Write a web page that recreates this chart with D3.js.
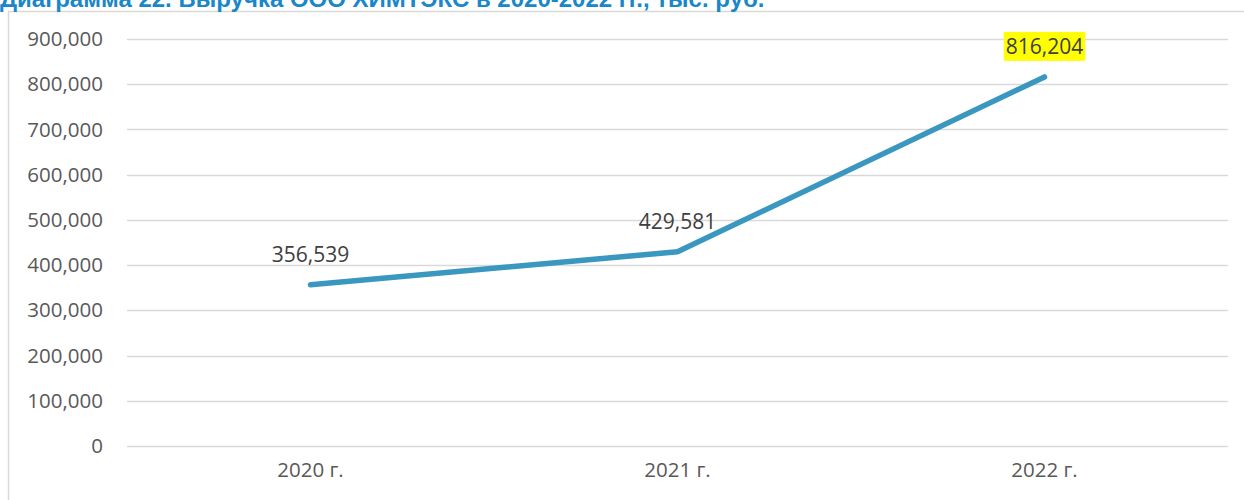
<!DOCTYPE html>
<html>
<head>
<meta charset="utf-8">
<script src="https://cdn.jsdelivr.net/npm/d3@7"></script>
<style>
  body { margin: 0; background: #fff; }
  svg { display: block; }
</style>
</head>
<body>
<script>
// data
var years = ["2020 г.", "2021 г.", "2022 г."];
var revenue = [356539, 429581, 816204];
var yTicks = [0, 100000, 200000, 300000, 400000, 500000, 600000, 700000, 800000, 900000];
var highlighted = [false, false, true];

var W = 1244, H = 500;
var margin = {left: 127, right: 16, top: 39, bottom: 54};

var svg = d3.select('body').append('svg')
    .attr('width', W)
    .attr('height', H);

// chart frame (cut off at right and bottom)
svg.append('rect')
    .attr('x', 8.5).attr('y', 11.5)
    .attr('width', W + 20).attr('height', H + 20)
    .attr('fill', 'none')
    .attr('stroke', '#d9d9d9')
    .attr('stroke-width', 1.5);

// title, top half is cut off by the page edge like in the source
svg.append('text')
    .attr('x', 0).attr('y', 7)
    .attr('font-family', 'Liberation Sans, Arial, sans-serif')
    .attr('font-weight', 'bold')
    .attr('font-size', 24)
    .attr('fill', '#1a87c9')
    .text('Диаграмма 22. Выручка ООО ХИМТЭКС в 2020-2022 гг., тыс. руб.');

var x = d3.scaleBand()
    .domain(years)
    .range([margin.left, W - margin.right]);

var y = d3.scaleLinear()
    .domain([0, 900000])
    .range([H - margin.bottom, margin.top]);

var fmt = d3.format(',');

// gridlines
svg.append('g')
    .selectAll('line')
    .data(yTicks)
    .enter().append('line')
    .attr('x1', margin.left)
    .attr('x2', W - margin.right)
    .attr('y1', function(d){ return Math.round(y(d)) + 0.5; })
    .attr('y2', function(d){ return Math.round(y(d)) + 0.5; })
    .style('stroke', '#d9d9d9')
    .style('stroke-width', 1.5);

// y axis labels
var yAxis = d3.axisLeft(y).tickValues(yTicks).tickFormat(fmt).tickSize(0).tickPadding(24);
var gy = svg.append('g')
    .attr('transform', 'translate(' + margin.left + ',0)')
    .call(yAxis);
gy.select('.domain').remove();
gy.selectAll('text')
    .attr('font-family', 'Open Sans, sans-serif')
    .attr('font-size', 20.5)
    .attr('fill', '#595959');

// x axis labels
var xAxis = d3.axisBottom(x).tickSize(0).tickPadding(16);
var gx = svg.append('g')
    .attr('transform', 'translate(0,' + (H - margin.bottom) + ')')
    .call(xAxis);
gx.select('.domain').remove();
gx.selectAll('text')
    .attr('font-family', 'Open Sans, sans-serif')
    .attr('font-size', 20.5)
    .attr('fill', '#595959');

var cx = function(i){ return x(years[i]) + x.bandwidth()/2; };

// the line
var line = d3.line()
    .x(function(d, i){ return cx(i); })
    .y(function(d){ return y(d); });

svg.append('path')
    .datum(revenue)
    .attr('d', line)
    .attr('fill', 'none')
    .attr('stroke', '#3a97bf')
    .attr('stroke-width', 5.5)
    .attr('stroke-linecap', 'round')
    .attr('stroke-linejoin', 'round');

// data labels
var labels = svg.append('g')
    .selectAll('g')
    .data(revenue)
    .enter().append('g')
    .attr('transform', function(d, i){ return 'translate(' + cx(i) + ',' + (y(d) - 23) + ')'; });

labels.append('text')
    .attr('text-anchor', 'middle')
    .attr('font-family', 'Open Sans, sans-serif')
    .attr('font-size', 21)
    .attr('fill', '#404040')
    .text(function(d){ return fmt(d); })
    .each(function(d, i){
        if (!highlighted[i]) return;
        var b = this.getBBox();
        d3.select(this.parentNode).insert('rect', 'text')
            .attr('x', b.x - 2).attr('y', b.y)
            .attr('width', b.width + 4).attr('height', b.height + 1)
            .attr('fill', '#ffff00');
    });
</script>
</body>
</html>
